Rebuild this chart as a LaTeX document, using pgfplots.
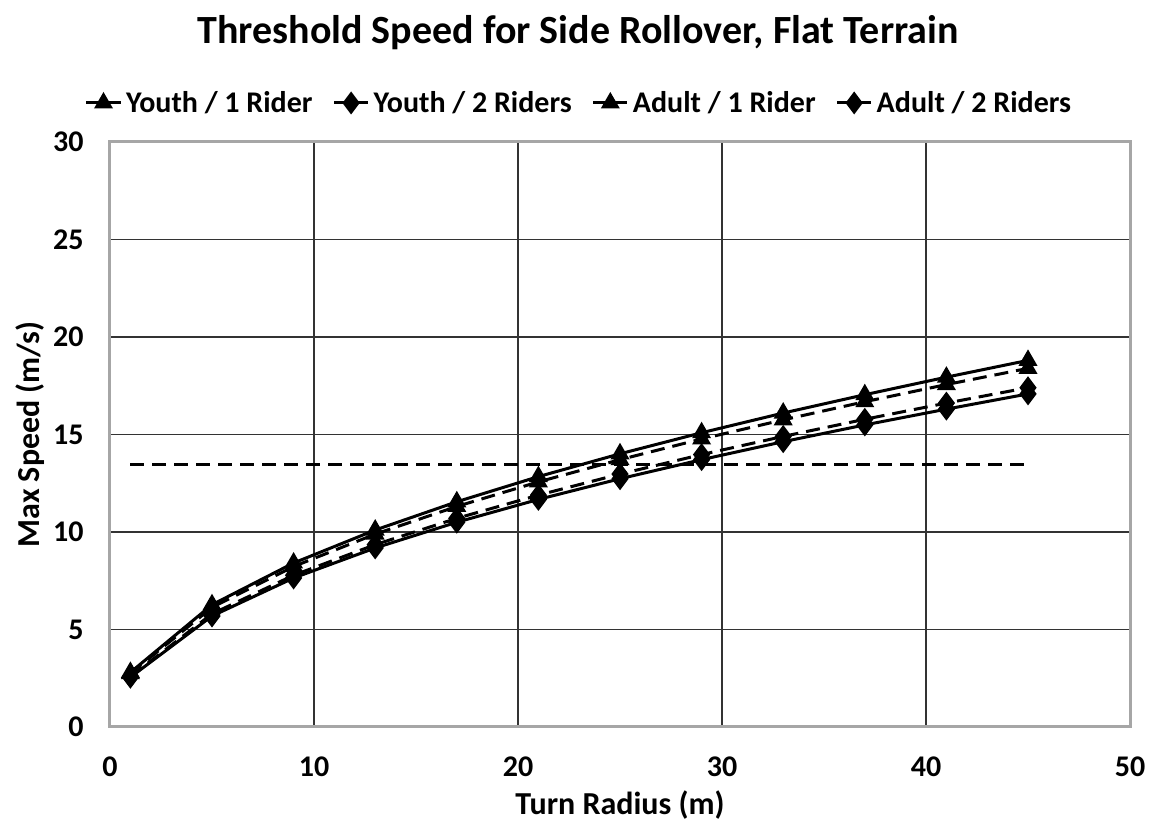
\documentclass[border=0pt]{standalone}
\usepackage{pgfplots}
\pgfplotsset{compat=1.18}
\usepackage{fontspec}
\setmainfont{Carlito}
\begin{document}
\begin{tikzpicture}
\begin{axis}[
  scale only axis,
  width=510pt, height=292.5pt,
  xmin=0, xmax=50, ymin=0, ymax=30,
  xtick={0,10,...,50}, ytick={0,5,...,30},
  grid=major,
  grid style={black!80, line width=0.7pt},
  axis line style={draw=gray!70, line width=1.5pt},
  tick style={draw=none},
  /pgf/number format/assume math mode=true,
  ticklabel style={font=\fontsize{15}{17}\selectfont\bfseries, inner sep=0pt},
  xticklabel style={anchor=center, yshift=-20pt},
  yticklabel style={anchor=east, xshift=-13pt},
  xlabel={Turn Radius (m)},
  ylabel={Max Speed (m/s)},
  label style={font=\fontsize{16}{18}\selectfont\bfseries},
  xlabel style={at={([yshift=-39pt]rel axis cs:0.5,0)}, anchor=center},
  ylabel style={at={([xshift=-40pt]rel axis cs:0,0.5)}, anchor=center},
  title={Threshold Speed for Side Rollover, Flat Terrain},
  title style={font=\fontsize{20}{24}\selectfont\bfseries,
    at={([xshift=-21pt, yshift=48.5pt]rel axis cs:0.5,1)}, anchor=center},
  legend style={at={([xshift=-20pt, yshift=19.5pt]rel axis cs:0.5,1)}, anchor=center,
    draw=none, fill=none, inner sep=0pt,
    legend columns=4, font=\fontsize{15}{17}\selectfont\bfseries,
    /tikz/every even column/.append style={column sep=8pt}},
  legend image post style={sharp plot},
  clip=false,
]
% Youth / 1 Rider
\addplot[black, line width=1.5pt, mark=triangle*, mark size=4pt, mark options={solid}] coordinates {
  (1,2.80) (5,6.27) (9,8.41) (13,10.10) (17,11.55) (21,12.84)
  (25,14.01) (29,15.09) (33,16.10) (37,17.04) (41,17.94) (45,18.80)
};
\addlegendentry{Youth / 1 Rider}
% Youth / 2 Riders
\addplot[black, line width=1.5pt, mark=diamond*, mark size=4.5pt, mark options={solid}] coordinates {
  (1,2.55) (5,5.69) (9,7.64) (13,9.18) (17,10.50) (21,11.67)
  (25,12.73) (29,13.71) (33,14.63) (37,15.49) (41,16.30) (45,17.08)
};
\addlegendentry{Youth / 2 Riders}
% Adult / 1 Rider
\addplot[black, line width=1.5pt, dash pattern=on 7pt off 4pt, mark=triangle*, mark size=4pt, mark options={solid}] coordinates {
  (1,2.74) (5,6.13) (9,8.23) (13,9.89) (17,11.31) (21,12.57)
  (25,13.71) (29,14.77) (33,15.75) (37,16.68) (41,17.56) (45,18.39)
};
\addlegendentry{Adult / 1 Rider}
% Adult / 2 Riders
\addplot[black, line width=1.5pt, dash pattern=on 7pt off 4pt, mark=diamond*, mark size=4.5pt, mark options={solid}] coordinates {
  (1,2.59) (5,5.80) (9,7.78) (13,9.35) (17,10.70) (21,11.89)
  (25,12.97) (29,13.97) (33,14.90) (37,15.78) (41,16.61) (45,17.40)
};
\addlegendentry{Adult / 2 Riders}
% threshold line
\addplot[black, line width=1.6pt, dash pattern=on 7pt off 4pt, forget plot] coordinates {
  (1,13.45) (45,13.45)
};
\end{axis}
\pgfresetboundingbox
\path[use as bounding box] ([shift={(-55pt,-52pt)}]current axis.south west)
  rectangle ([shift={(12pt,71pt)}]current axis.north east);
\end{tikzpicture}
\end{document}
